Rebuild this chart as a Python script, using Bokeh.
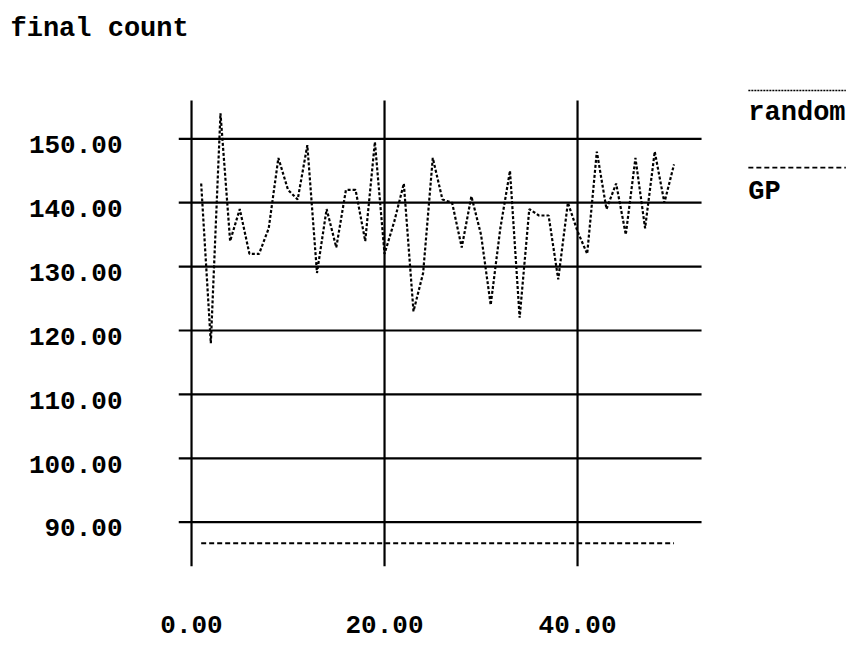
from bokeh.plotting import figure
from bokeh.layouts import column
from bokeh.models import (Range1d, FixedTicker, PrintfTickFormatter, LinearAxis,
                          Grid)
from bokeh.core.properties import value
from bokeh.embed import file_html
from bokeh.resources import INLINE

# ---- data ----
runs = list(range(1, 51))
random_counts = [143, 118, 154, 134, 139, 132, 132, 136, 147, 142,
                 140.5, 149, 129, 139, 133, 142, 142, 134, 149.5, 132,
                 137, 143, 123, 129, 147, 140.5, 140, 133, 141, 135,
                 124, 136, 145, 122, 139, 138, 138, 128, 140, 135.5,
                 132, 148, 139, 143, 135, 147, 136, 148, 140, 146]
gp_counts = [86.7, 86.7, 86.7, 86.7, 86.7, 86.7, 86.7, 86.7, 86.7, 86.7,
             86.7, 86.7, 86.7, 86.7, 86.7, 86.7, 86.7, 86.7, 86.7, 86.7,
             86.7, 86.7, 86.7, 86.7, 86.7, 86.7, 86.7, 86.7, 86.7, 86.7,
             86.7, 86.7, 86.7, 86.7, 86.7, 86.7, 86.7, 86.7, 86.7, 86.7,
             86.7, 86.7, 86.7, 86.7, 86.7, 86.7, 86.7, 86.7, 86.7, 86.7]
x_ticks = [0, 20, 40]
y_ticks = [90, 100, 110, 120, 130, 140, 150]
series_names = ["random", "GP"]
title_text = "final count"

# ---- layout / style constants ----
FONT = "Liberation Mono"
W = 854
TITLE_H = 50
X0, X1 = -1.35, 68.70          # frame spans plot area + legend column
Y0, Y1 = 83.07, 158.34
GRID_X_END = 52.85             # horizontal rules stop here
GRID_Y_TOP = 156.0             # vertical rules stop here
LAB_SHIFT = 0.9                # y labels sit a little below their rule
LEG_X0, LEG_X1 = 57.7, 67.8
LEG_LINE_Y = [157.55, 145.5]
LEG_TEXT_Y = [153.96, 141.75]

# ---- title strip ----
t = figure(width=W, height=TITLE_H, output_backend="svg", toolbar_location=None,
           x_range=Range1d(0, W), y_range=Range1d(TITLE_H, 0), min_border=0,
           x_axis_location=None, y_axis_location=None)
t.frame_align = False
t.outline_line_color = None
t.center = [r for r in t.center if not isinstance(r, Grid)]
t.text(x=[10], y=[28], text=[title_text], text_font=value(FONT),
       text_font_size="27px", text_font_style="bold", text_color="black",
       text_baseline="alphabetic", text_align="left")

# ---- main plot ----
p = figure(width=W, height=646 - TITLE_H, output_backend="svg",
           toolbar_location=None,
           x_range=Range1d(X0, X1), y_range=Range1d(Y0, Y1),
           min_border_left=178, min_border_right=0,
           min_border_top=85 - TITLE_H, min_border_bottom=80,
           x_axis_location=None, y_axis_location=None)
p.frame_align = False
p.outline_line_color = None
p.center = [r for r in p.center if not isinstance(r, Grid)]

# rules (grid lines) at the tick values
p.segment(x0=X0, y0=y_ticks, x1=GRID_X_END, y1=y_ticks,
          line_color="black", line_width=2.2)
p.segment(x0=x_ticks, y0=Y0, x1=x_ticks, y1=GRID_Y_TOP,
          line_color="black", line_width=2.2)

def style_axis(ax, standoff):
    ax.axis_line_color = None
    ax.major_tick_line_color = None
    ax.minor_tick_line_color = None
    ax.major_tick_out = 0
    ax.major_tick_in = 0
    ax.minor_tick_out = 0
    ax.major_label_standoff = standoff
    ax.major_label_text_font = FONT
    ax.major_label_text_font_size = "26px"
    ax.major_label_text_font_style = "bold"
    ax.major_label_text_color = "black"

xaxis = LinearAxis(ticker=FixedTicker(ticks=x_ticks),
                   formatter=PrintfTickFormatter(format="%.2f"))
style_axis(xaxis, 49)
p.add_layout(xaxis, "below")

p.extra_y_ranges = {"labels": Range1d(Y0 + LAB_SHIFT, Y1 + LAB_SHIFT)}
yaxis = LinearAxis(y_range_name="labels", ticker=FixedTicker(ticks=y_ticks),
                   formatter=PrintfTickFormatter(format="%.2f"))
style_axis(yaxis, 56)
p.add_layout(yaxis, "left")

# series
p.line(runs, random_counts, line_color="black", line_width=2.2, line_dash="3 2")
p.line(runs, gp_counts, line_color="black", line_width=2, line_dash="5 3")

# legend (line sample above its label)
p.segment(x0=[LEG_X0], y0=[LEG_LINE_Y[0]], x1=[LEG_X1], y1=[LEG_LINE_Y[0]],
          line_color="black", line_width=1.5, line_dash="2 1")
p.segment(x0=[LEG_X0], y0=[LEG_LINE_Y[1]], x1=[LEG_X1], y1=[LEG_LINE_Y[1]],
          line_color="black", line_width=1.8, line_dash="5 3")
p.text(x=[LEG_X0, LEG_X0], y=LEG_TEXT_Y, text=series_names,
       text_font=value(FONT), text_font_size="27px", text_font_style="bold",
       text_color="black", text_baseline="alphabetic", text_align="left")

layout = column(t, p, spacing=0)
open("out.html", "w").write(file_html(layout, INLINE))
